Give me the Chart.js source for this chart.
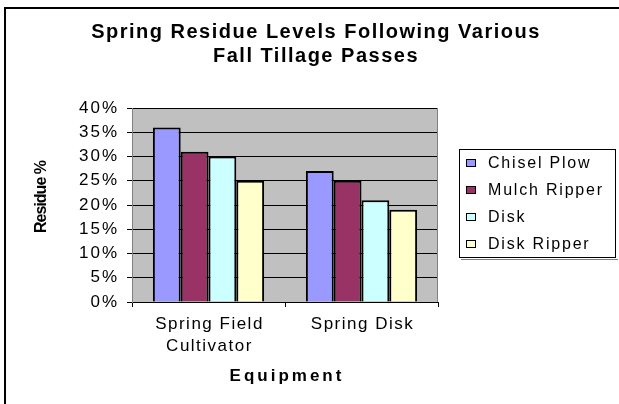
<!DOCTYPE html>
<html><head><meta charset="utf-8">
<script src="https://cdn.jsdelivr.net/npm/chart.js@4/dist/chart.umd.min.js"></script>
<style>html,body{margin:0;padding:0;background:#fff;overflow:hidden}#wrap{width:619px;height:404px;position:relative}</style>
</head><body><div id="wrap"><canvas id="c" width="619" height="404"></canvas></div>
<script>
// ---- data ----
const titleLines = ['Spring Residue Levels Following Various', 'Fall Tillage Passes'];
const categories = [['Spring Field', 'Cultivator'], 'Spring Disk'];
const seriesNames = ['Chisel Plow', 'Mulch Ripper', 'Disk', 'Disk Ripper'];
const chiselPlow = [36, 27];
const mulchRipper = [31, 25];
const disk = [30, 21];
const diskRipper = [25, 19];
const seriesColors = ['#9999FF', '#993366', '#CCFFFF', '#FFFFCC'];
const yTicks = [0, 5, 10, 15, 20, 25, 30, 35, 40];
const xTitle = 'Equipment';
const yTitle = 'Residue %';

const seriesValues = [chiselPlow, mulchRipper, disk, diskRipper];
const fontFamily = "'Liberation Sans', Arial, Helvetica, sans-serif";
Chart.defaults.font.family = fontFamily;
Chart.defaults.color = '#000';

function withSpacing(obj, method, spacing, dx, dy) {
  if (obj['__w_' + method]) return;
  const orig = obj[method];
  obj[method] = function (...args) {
    const c = this.ctx;
    c.save();
    c.letterSpacing = spacing;
    c.translate(dx || 0, dy || 0);
    const r = orig.apply(this, args);
    c.restore();
    return r;
  };
  obj['__w_' + method] = true;
}

const framePlugin = {
  id: 'frame',
  beforeDraw(chart) {
    const { ctx, chartArea: a } = chart;
    ctx.save();
    ctx.lineWidth = 2;
    ctx.strokeStyle = '#000';
    ctx.strokeRect(5, 8, chart.width + 20, chart.height + 20);
    ctx.fillStyle = '#C0C0C0';
    ctx.fillRect(a.left, a.top, a.right - a.left, a.bottom - a.top);
    ctx.restore();
    withSpacing(chart.scales.x, 'drawLabels', '1.5px', 1, 1);
    withSpacing(chart.scales.x, 'drawTitle', '3px', 2, 0);
    withSpacing(chart.scales.y, 'drawLabels', '2px', 0, 0);
    withSpacing(chart.scales.y, 'drawTitle', '-1px', 0, -8);
  },
  beforeDatasetsDraw(chart) {
    const { ctx, chartArea: a } = chart;
    ctx.save();
    ctx.strokeStyle = '#808080';
    ctx.lineWidth = 1;
    ctx.beginPath();
    const x = Math.round(a.right) - 0.5;
    ctx.moveTo(x, a.top);
    ctx.lineTo(x, a.bottom);
    ctx.stroke();
    ctx.restore();
  },
  afterDraw(chart) {
    const ctx = chart.ctx;
    // title
    ctx.save();
    ctx.fillStyle = '#000';
    ctx.font = 'bold 20px ' + fontFamily;
    ctx.letterSpacing = '1.5px';
    ctx.textAlign = 'center';
    ctx.textBaseline = 'alphabetic';
    titleLines.forEach((t, i) => ctx.fillText(t, 316, 38 + i * 24));
    ctx.restore();
    // legend
    ctx.save();
    const bx = 459, by = 149, bw = 157, bh = 109;
    ctx.fillStyle = '#808080';
    ctx.fillRect(bx + 2, by + bh + 1, bw, 1);
    ctx.fillStyle = '#fff';
    ctx.fillRect(bx, by, bw, bh);
    ctx.strokeStyle = '#000';
    ctx.lineWidth = 1;
    ctx.strokeRect(bx + 0.5, by + 0.5, bw - 1, bh - 1);
    ctx.font = '16px ' + fontFamily;
    ctx.letterSpacing = '1.8px';
    ctx.textAlign = 'left';
    ctx.textBaseline = 'alphabetic';
    chart.data.datasets.forEach((ds, i) => {
      const base = by + 19 + i * 27;
      ctx.fillStyle = ds.backgroundColor;
      ctx.fillRect(466, base - 9, 10, 8);
      ctx.strokeStyle = '#000';
      ctx.strokeRect(466.5, base - 8.5, 9, 7);
      ctx.fillStyle = '#000';
      ctx.fillText(ds.label, 488, base);
    });
    ctx.restore();
  }
};

new Chart(document.getElementById('c'), {
  type: 'bar',
  data: {
    labels: categories,
    datasets: seriesNames.map((name, i) => ({
      label: name,
      data: seriesValues[i],
      backgroundColor: seriesColors[i],
      borderColor: '#000',
      borderWidth: 2,
      categoryPercentage: 0.727,
      barPercentage: 1
    }))
  },
  options: {
    responsive: false,
    animation: false,
    devicePixelRatio: 1,
    layout: { padding: { left: 6, top: 108, right: 181, bottom: 0 } },
    plugins: { legend: { display: false }, title: { display: false }, tooltip: { enabled: false } },
    scales: {
      x: {
        grid: { display: true, drawOnChartArea: false, drawTicks: true, tickLength: 5, color: '#000', offset: true },
        border: { display: true, color: '#000', width: 1 },
        ticks: { font: { size: 17, lineHeight: 1.3 }, padding: 5, maxRotation: 0, autoSkip: false },
        title: { display: true, text: xTitle, font: { size: 17, weight: 'bold' }, padding: { top: 0, bottom: 17 } },
        afterFit: s => { s.height = 102; }
      },
      y: {
        min: 0, max: 40,
        afterBuildTicks: s => { s.ticks = yTicks.map(v => ({ value: v })); },
        grid: { color: '#000', lineWidth: 1, tickLength: 5, drawTicks: true },
        border: { display: true, color: '#808080', width: 1 },
        ticks: { font: { size: 17 }, padding: 8, callback: v => v + '%' },
        title: { display: true, text: yTitle, font: { size: 16, weight: 'bold' }, padding: { top: 26, bottom: 0 } },
        afterFit: s => { s.width = 126; }
      }
    }
  },
  plugins: [framePlugin]
});
</script>
</body></html>
